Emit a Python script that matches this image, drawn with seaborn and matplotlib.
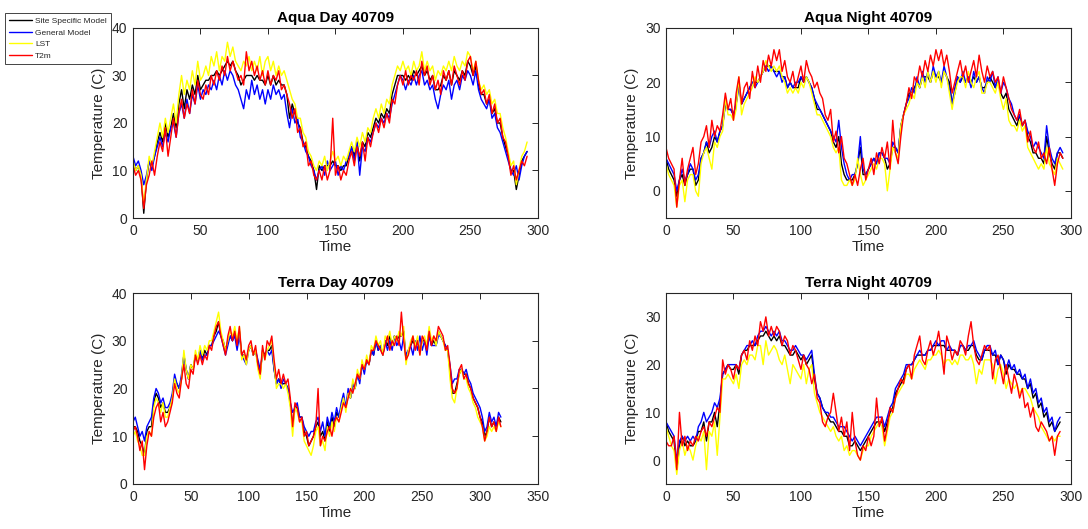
import numpy as np
import pandas as pd
import matplotlib
matplotlib.use("Agg")
import matplotlib.pyplot as plt
import seaborn as sns

STEP = 2
SERIES_NAMES = ["Site Specific Model", "General Model", "LST", "T2m"]
SERIES_COLORS = ["#000000", "#0000FF", "#FFFF00", "#FF0000"]

# Aqua Day 40709 (t = 0 .. 292)
aqua_day_site = [12, 10, 11, 9, 1, 8, 12, 11, 13, 16, 18, 16, 20, 17, 19, 22, 19, 24, 27, 23,
                 27, 25, 28, 26, 30, 27, 28, 29, 29, 30, 30, 31, 30, 31, 32, 33, 32, 33, 31, 30,
                 28, 29, 30, 30, 30, 29, 30, 29, 29, 28, 30, 28, 30, 28, 29, 28, 28, 26, 21, 24,
                 22, 20, 19, 16, 15, 13, 12, 10, 6, 11, 10, 11, 11, 11, 12, 11, 11, 10, 11, 11,
                 13, 15, 13, 16, 12, 16, 15, 18, 17, 19, 21, 20, 22, 21, 23, 22, 26, 28, 30, 30,
                 30, 29, 30, 29, 31, 30, 31, 32, 30, 31, 29, 30, 27, 27, 28, 30, 29, 31, 28, 31,
                 30, 29, 31, 30, 33, 32, 30, 32, 28, 26, 26, 24, 25, 22, 23, 20, 20, 17, 15, 13,
                 10, 10, 6, 9, 12, 13, 14]
aqua_day_general = [13, 11, 12, 10, 7, 9, 12, 10, 13, 15, 17, 15, 18, 16, 19, 20, 17, 22, 24, 21,
                    25, 22, 26, 24, 28, 25, 27, 26, 28, 27, 29, 27, 30, 28, 31, 29, 31, 30, 28, 27,
                    25, 23, 27, 25, 29, 26, 28, 25, 27, 24, 27, 25, 28, 26, 27, 25, 26, 22, 19, 23,
                    20, 21, 17, 16, 14, 13, 11, 10, 8, 10, 11, 9, 12, 10, 11, 12, 9, 11, 10, 12,
                    13, 15, 12, 16, 9, 15, 14, 17, 16, 18, 20, 19, 21, 20, 22, 21, 24, 26, 28, 30,
                    29, 27, 29, 28, 30, 28, 30, 31, 28, 29, 27, 28, 25, 23, 26, 28, 27, 29, 25, 28,
                    29, 27, 30, 29, 31, 30, 28, 31, 27, 25, 24, 23, 25, 21, 22, 19, 18, 16, 14, 12,
                    10, 9, 11, 8, 11, 13, 14]
aqua_day_lst = [12, 10, 11, 9, 3, 8, 13, 11, 14, 17, 20, 17, 21, 18, 21, 24, 20, 26, 30, 26,
                29, 27, 31, 28, 33, 29, 30, 32, 30, 34, 32, 35, 31, 34, 33, 37, 34, 36, 33, 32,
                31, 33, 32, 34, 31, 33, 31, 34, 30, 33, 34, 31, 33, 30, 32, 30, 31, 29, 27, 25,
                24, 21, 21, 18, 17, 14, 13, 11, 10, 12, 11, 13, 10, 12, 14, 12, 13, 11, 13, 12,
                14, 16, 14, 17, 15, 18, 16, 19, 18, 21, 23, 21, 24, 22, 25, 24, 28, 30, 32, 31,
                33, 31, 32, 30, 33, 31, 32, 35, 31, 33, 31, 32, 29, 31, 30, 32, 31, 33, 31, 34,
                32, 31, 33, 32, 35, 34, 31, 33, 29, 27, 28, 26, 27, 24, 25, 22, 22, 19, 17, 14,
                11, 12, 7, 10, 13, 14, 16]
aqua_day_t2m = [11, 9, 10, 8, 2, 7, 9, 12, 9, 13, 16, 14, 19, 13, 17, 21, 17, 22, 25, 21,
                24, 22, 27, 24, 29, 26, 25, 28, 26, 30, 28, 31, 29, 32, 30, 34, 31, 33, 31, 29,
                30, 28, 35, 31, 33, 30, 32, 29, 31, 28, 31, 28, 30, 29, 31, 27, 28, 26, 24, 21,
                23, 18, 19, 15, 16, 11, 12, 9, 8, 10, 8, 11, 8, 10, 21, 9, 11, 8, 10, 9,
                12, 14, 11, 15, 13, 16, 12, 17, 15, 18, 20, 18, 21, 19, 22, 20, 25, 24, 28, 30,
                28, 31, 28, 30, 29, 31, 28, 33, 30, 32, 28, 30, 27, 29, 26, 31, 29, 31, 28, 32,
                30, 28, 31, 29, 33, 34, 30, 33, 29, 26, 27, 24, 26, 22, 24, 20, 21, 17, 16, 13,
                9, 11, 8, 10, 12, 11, 13]

# Aqua Night 40709 (t = 0 .. 294)
aqua_night_site = [6, 4, 3, 2, -1, 2, 3, 1, 3, 4, 4, 1, 2, 6, 7, 9, 7, 8, 10, 9,
                   11, 12, 16, 15, 15, 14, 16, 20, 16, 17, 18, 19, 20, 20, 20, 21, 22, 23, 23, 23,
                   22, 22, 22, 21, 21, 19, 20, 19, 19, 19, 21, 20, 21, 20, 19, 17, 15, 15, 14, 13,
                   12, 11, 9, 8, 10, 5, 3, 2, 2, 2, 3, 5, 8, 3, 3, 4, 5, 6, 5, 7,
                   7, 6, 4, 5, 8, 8, 7, 12, 14, 16, 18, 18, 19, 20, 19, 21, 21, 21, 20, 22,
                   21, 21, 20, 22, 21, 20, 16, 18, 21, 20, 21, 20, 21, 20, 21, 20, 21, 19, 19, 20,
                   21, 20, 19, 20, 18, 17, 18, 15, 14, 13, 12, 14, 12, 13, 10, 9, 7, 7, 6, 6,
                   5, 10, 7, 5, 4, 7, 7, 6]
aqua_night_general = [6, 5, 4, 3, 0, 2, 4, 2, 3, 5, 4, 2, 3, 6, 7, 9, 8, 10, 11, 9,
                      11, 12, 16, 15, 15, 14, 16, 19, 16, 17, 18, 19, 20, 19, 20, 21, 22, 23, 22, 23,
                      22, 21, 22, 20, 21, 19, 20, 19, 20, 20, 21, 20, 21, 20, 19, 17, 16, 15, 14, 13,
                      12, 11, 10, 9, 13, 8, 5, 3, 2, 3, 3, 5, 10, 4, 3, 4, 5, 6, 5, 7,
                      7, 6, 6, 5, 9, 8, 7, 12, 14, 16, 17, 19, 18, 21, 19, 22, 20, 22, 20, 23,
                      21, 22, 20, 23, 21, 19, 16, 19, 21, 20, 22, 20, 21, 19, 22, 20, 21, 19, 18, 21,
                      20, 22, 19, 21, 18, 20, 19, 17, 16, 14, 13, 14, 12, 13, 11, 10, 8, 9, 8, 7,
                      6, 12, 8, 6, 5, 7, 8, 7]
aqua_night_lst = [5, 3, 2, 1, -3, 1, 2, -2, 2, 3, 3, 0, -1, 5, 7, 8, 6, 4, 9, 8,
                  10, 11, 17, 14, 14, 13, 15, 21, 14, 16, 17, 18, 19, 21, 20, 21, 22, 24, 23, 22,
                  23, 22, 23, 21, 20, 18, 19, 18, 19, 18, 20, 19, 21, 20, 18, 16, 14, 14, 13, 12,
                  11, 10, 8, 7, 8, 2, 1, 1, 2, 1, 2, 6, 3, 1, 2, 3, 4, 5, 4, 6,
                  6, 5, 0, 4, 8, 7, 6, 12, 14, 15, 16, 18, 17, 20, 19, 21, 19, 22, 20, 22,
                  20, 22, 19, 22, 21, 18, 15, 18, 20, 21, 21, 19, 22, 20, 19, 21, 22, 18, 18, 20,
                  20, 19, 18, 20, 17, 15, 17, 13, 12, 12, 11, 13, 11, 12, 8, 7, 6, 5, 4, 5,
                  4, 8, 5, 4, 3, 6, 5, 4]
aqua_night_t2m = [8, 6, 5, 4, -3, 2, 6, 1, 4, 6, 8, 3, 5, 9, 10, 12, 8, 13, 10, 12,
                  11, 14, 18, 15, 17, 13, 18, 21, 16, 19, 20, 17, 22, 19, 23, 20, 24, 22, 25, 23,
                  26, 24, 26, 22, 24, 21, 20, 22, 19, 21, 23, 20, 24, 22, 21, 19, 20, 18, 17, 14,
                  13, 15, 9, 11, 7, 10, 6, 5, 3, 1, 3, 1, 4, 6, 2, 4, 6, 3, 7, 5,
                  8, 6, 9, 4, 13, 7, 5, 10, 14, 16, 19, 17, 21, 20, 23, 21, 24, 22, 25, 23,
                  26, 24, 26, 23, 25, 22, 18, 20, 22, 24, 21, 23, 20, 22, 24, 21, 25, 22, 20, 23,
                  21, 22, 20, 21, 18, 21, 19, 17, 15, 14, 13, 15, 12, 13, 9, 11, 8, 7, 9, 6,
                  7, 5, 8, 4, 1, 5, 7, 6]

# Terra Day 40709 (t = 0 .. 318)
terra_day_site = [12, 12, 11, 9, 8, 6, 11, 12, 12, 17, 19, 18, 16, 17, 15, 15, 16, 18, 22, 21,
                  20, 22, 27, 24, 22, 25, 24, 27, 26, 28, 26, 28, 27, 29, 29, 31, 32, 34, 31, 30,
                  28, 30, 31, 30, 32, 29, 32, 27, 27, 26, 28, 29, 27, 28, 25, 23, 28, 27, 28, 28,
                  29, 24, 21, 22, 21, 21, 21, 20, 17, 12, 16, 16, 14, 14, 11, 10, 8, 9, 10, 12,
                  13, 10, 11, 9, 13, 11, 14, 12, 15, 14, 16, 18, 16, 19, 18, 21, 20, 23, 22, 25,
                  24, 26, 25, 28, 27, 30, 28, 29, 27, 30, 29, 31, 29, 31, 30, 31, 31, 32, 26, 28,
                  29, 30, 29, 30, 28, 30, 30, 29, 32, 29, 30, 29, 32, 31, 30, 29, 28, 24, 19, 19,
                  21, 23, 24, 23, 23, 21, 20, 18, 17, 16, 14, 13, 10, 11, 14, 12, 13, 12, 14, 13]
terra_day_general = [13, 14, 12, 10, 11, 9, 12, 13, 14, 18, 20, 19, 17, 18, 16, 16, 17, 19, 23, 21,
                     20, 23, 27, 24, 22, 25, 24, 27, 26, 28, 26, 27, 27, 29, 29, 30, 31, 32, 31, 29,
                     27, 29, 31, 30, 31, 28, 31, 27, 26, 25, 28, 29, 27, 28, 26, 24, 27, 27, 28, 27,
                     28, 24, 21, 22, 20, 22, 21, 20, 17, 15, 16, 17, 14, 14, 12, 11, 10, 11, 11, 13,
                     14, 11, 13, 10, 14, 12, 15, 13, 16, 14, 17, 19, 16, 20, 18, 21, 20, 23, 21, 25,
                     23, 26, 25, 28, 27, 30, 28, 29, 27, 30, 28, 30, 28, 31, 29, 30, 28, 31, 27, 28,
                     29, 27, 30, 28, 31, 28, 30, 27, 31, 29, 29, 29, 31, 31, 30, 29, 28, 25, 21, 22,
                     22, 24, 24, 23, 24, 22, 21, 19, 18, 17, 16, 14, 11, 12, 15, 13, 14, 12, 15, 14]
terra_day_lst = [10, 11, 9, 8, 6, 6, 10, 11, 10, 16, 18, 17, 15, 17, 14, 14, 16, 18, 22, 20,
                 19, 22, 28, 24, 22, 25, 24, 28, 26, 29, 27, 29, 28, 30, 30, 32, 34, 36, 32, 30,
                 28, 30, 32, 31, 33, 30, 33, 26, 27, 25, 28, 29, 27, 28, 24, 22, 28, 26, 28, 29,
                 30, 25, 20, 21, 21, 20, 21, 19, 16, 10, 16, 15, 13, 13, 9, 8, 7, 6, 8, 11,
                 12, 8, 9, 7, 12, 10, 13, 11, 14, 13, 16, 18, 15, 19, 18, 22, 20, 24, 22, 26,
                 24, 27, 25, 29, 28, 31, 29, 30, 27, 31, 30, 32, 29, 31, 30, 32, 31, 33, 25, 28,
                 30, 31, 29, 31, 27, 30, 31, 29, 33, 30, 31, 29, 32, 31, 30, 28, 28, 22, 18, 17,
                 20, 23, 24, 22, 22, 20, 19, 17, 16, 14, 13, 12, 9, 10, 12, 11, 12, 11, 13, 12]
terra_day_t2m = [11, 12, 10, 7, 9, 3, 8, 11, 10, 14, 16, 17, 13, 15, 12, 13, 15, 17, 21, 19,
                 18, 22, 25, 21, 20, 24, 23, 27, 25, 27, 25, 27, 26, 29, 28, 31, 33, 34, 31, 29,
                 27, 31, 33, 30, 32, 29, 33, 27, 28, 26, 29, 30, 27, 29, 25, 23, 29, 26, 30, 29,
                 31, 26, 22, 24, 21, 23, 21, 22, 18, 12, 17, 16, 13, 14, 10, 11, 8, 9, 10, 12,
                 20, 8, 10, 9, 11, 12, 10, 13, 14, 13, 15, 17, 16, 18, 20, 19, 21, 23, 22, 25,
                 24, 26, 25, 28, 28, 30, 29, 28, 27, 29, 31, 28, 30, 29, 31, 29, 36, 30, 26, 27,
                 29, 31, 28, 30, 27, 31, 30, 28, 32, 29, 31, 30, 33, 32, 31, 28, 29, 25, 20, 19,
                 20, 24, 25, 22, 23, 21, 20, 18, 17, 16, 14, 12, 9, 11, 14, 12, 13, 11, 14, 12]

# Terra Night 40709 (t = 0 .. 292)
terra_night_site = [8, 6, 5, 4, -2, 3, 5, 3, 4, 3, 3, 4, 6, 6, 8, 4, 8, 8, 10, 7,
                    12, 18, 19, 20, 19, 19, 20, 18, 22, 23, 23, 24, 24, 24, 25, 26, 26, 27, 26, 25,
                    26, 25, 26, 24, 24, 23, 22, 22, 23, 22, 21, 22, 20, 21, 22, 17, 14, 13, 11, 10,
                    9, 8, 8, 7, 6, 6, 5, 5, 3, 3, 4, 3, 2, 3, 4, 5, 6, 7, 8, 8,
                    8, 6, 8, 10, 11, 14, 15, 16, 17, 19, 20, 20, 21, 22, 22, 22, 22, 23, 23, 24,
                    24, 24, 24, 24, 23, 23, 23, 23, 22, 24, 24, 23, 23, 24, 24, 22, 21, 21, 23, 23,
                    23, 22, 22, 20, 22, 21, 18, 20, 19, 19, 18, 18, 17, 17, 15, 16, 13, 14, 11, 12,
                    9, 10, 7, 8, 6, 7, 8]
terra_night_general = [8, 7, 6, 5, 0, 4, 5, 4, 5, 4, 5, 4, 7, 8, 10, 8, 9, 10, 12, 11,
                       13, 18, 19, 20, 20, 20, 20, 19, 22, 23, 24, 24, 25, 24, 26, 27, 27, 28, 27, 26,
                       27, 26, 27, 25, 25, 24, 23, 23, 24, 23, 22, 22, 21, 22, 23, 18, 14, 13, 11, 10,
                       10, 9, 9, 8, 7, 7, 7, 6, 5, 4, 5, 4, 3, 4, 5, 6, 7, 8, 9, 9,
                       9, 7, 9, 11, 12, 15, 16, 17, 18, 20, 20, 20, 21, 22, 23, 22, 22, 23, 23, 24,
                       25, 24, 25, 25, 23, 24, 23, 23, 22, 24, 24, 23, 24, 24, 25, 23, 22, 21, 23, 24,
                       24, 22, 23, 20, 22, 21, 19, 21, 19, 20, 18, 19, 17, 18, 15, 17, 14, 15, 12, 13,
                       10, 11, 8, 9, 6, 8, 9]
terra_night_lst = [7, 5, 3, 2, -3, 2, 4, 1, 3, 2, 0, 3, 5, 4, 6, -2, 6, 5, 8, 1,
                   9, 17, 17, 18, 17, 16, 18, 15, 20, 21, 20, 22, 22, 21, 24, 24, 20, 25, 22, 23,
                   24, 23, 21, 20, 22, 19, 16, 20, 19, 18, 17, 20, 16, 19, 20, 14, 12, 10, 9, 8,
                   7, 6, 7, 5, 4, 5, 2, 3, 1, 2, 2, 1, 0, 2, 3, 3, 5, 6, 7, 8,
                   7, 3, 6, 9, 10, 13, 14, 15, 16, 18, 18, 17, 19, 20, 21, 20, 19, 21, 21, 22,
                   22, 23, 22, 20, 21, 21, 20, 21, 20, 22, 22, 21, 21, 22, 20, 16, 19, 18, 21, 21,
                   21, 20, 16, 19, 20, 18, 15, 17, 16, 15, 16, 14, 15, 15, 14, 13, 11, 10, 9, 7,
                   6, 5, 4, 5, 4, 5, 5]
terra_night_t2m = [4, 3, 3, 5, -2, 10, 3, 5, 2, 4, 3, 5, 4, 6, 7, 5, 8, 7, 9, 11,
                   10, 21, 18, 20, 19, 17, 20, 19, 22, 23, 21, 25, 23, 26, 24, 29, 27, 30, 26, 28,
                   26, 28, 27, 24, 26, 25, 22, 24, 23, 21, 19, 22, 20, 19, 16, 18, 13, 12, 8, 7,
                   9, 10, 14, 10, 6, 9, 5, 8, 2, 10, 4, 1, 0, 3, 2, 5, 3, 5, 13, 7,
                   9, 4, 7, 11, 10, 13, 15, 17, 16, 19, 20, 17, 22, 24, 26, 21, 20, 23, 25, 22,
                   24, 27, 23, 18, 26, 24, 21, 23, 22, 25, 24, 22, 26, 29, 24, 21, 20, 22, 24, 23,
                   24, 17, 21, 22, 19, 16, 20, 17, 14, 18, 16, 13, 15, 11, 12, 9, 11, 7, 6, 8,
                   7, 6, 4, 5, 1, 5, 6]

PANEL_TITLES = ["Aqua Day 40709", "Aqua Night 40709", "Terra Day 40709", "Terra Night 40709"]
X_TICKS = [[0, 50, 100, 150, 200, 250, 300], [0, 50, 100, 150, 200, 250, 300],
           [0, 50, 100, 150, 200, 250, 300, 350], [0, 50, 100, 150, 200, 250, 300]]
Y_TICKS = [[0, 10, 20, 30, 40], [0, 10, 20, 30], [0, 10, 20, 30, 40], [0, 10, 20, 30]]

panel_series = [
    [aqua_day_site, aqua_day_general, aqua_day_lst, aqua_day_t2m],
    [aqua_night_site, aqua_night_general, aqua_night_lst, aqua_night_t2m],
    [terra_day_site, terra_day_general, terra_day_lst, terra_day_t2m],
    [terra_night_site, terra_night_general, terra_night_lst, terra_night_t2m],
]

# ---------------- layout / style ----------------
sns.set_theme(style="white")
plt.rcParams["font.family"] = ["Liberation Sans", "DejaVu Sans"]
AXCOL = "#262626"

fig = plt.figure(figsize=(10.88, 5.29), dpi=100)
rects = [[0.1222, 0.5879, 0.3722, 0.3592], [0.6121, 0.5879, 0.3722, 0.3592],
         [0.1222, 0.0851, 0.3722, 0.3610], [0.6121, 0.0851, 0.3722, 0.3610]]
xlims = [(0, 300), (0, 300), (0, 350), (0, 300)]
ylims = [(0, 40), (-5, 30), (0, 40), (-5, 35)]

palette = dict(zip(SERIES_NAMES, SERIES_COLORS))
legend_handles = None
for i, (rect, series) in enumerate(zip(rects, panel_series)):
    ax = fig.add_axes(rect)
    frames = []
    for name, vals in zip(SERIES_NAMES, series):
        frames.append(pd.DataFrame({"Time": np.arange(len(vals)) * STEP,
                                    "Temp": vals, "Series": name}))
    df = pd.concat(frames, ignore_index=True)
    sns.lineplot(data=df, x="Time", y="Temp", hue="Series", hue_order=SERIES_NAMES,
                 palette=palette, estimator=None, sort=False, linewidth=1.0,
                 legend=False, ax=ax)
    if legend_handles is None:
        legend_handles = list(ax.get_lines())
    ax.set_xlim(*xlims[i])
    ax.set_ylim(*ylims[i])
    ax.set_xticks(X_TICKS[i])
    ax.set_yticks(Y_TICKS[i])
    ax.set_title(PANEL_TITLES[i], fontsize=11, fontweight="bold", color="black", pad=4)
    ax.set_xlabel("Time", fontsize=11, color=AXCOL, labelpad=2)
    ax.set_ylabel("Temperature (C)", fontsize=11, color=AXCOL, labelpad=4)
    ax.tick_params(direction="in", top=True, right=True, length=4, width=0.7,
                   labelsize=10, colors=AXCOL, pad=4)
    for s in ax.spines.values():
        s.set_visible(True)
        s.set_color(AXCOL)
        s.set_linewidth(0.8)
    ax.set_facecolor("white")

leg = fig.legend(legend_handles, SERIES_NAMES, loc="upper left",
                 bbox_to_anchor=(5 / 1088, 1 - 13 / 529), fontsize=6,
                 frameon=True, fancybox=False, edgecolor="#262626", framealpha=1,
                 handlelength=2.8, borderpad=0.5, labelspacing=0.45, handletextpad=0.3,
                 borderaxespad=0)
leg.get_frame().set_linewidth(0.6)

fig.savefig("out.png", dpi=100, facecolor="white")
